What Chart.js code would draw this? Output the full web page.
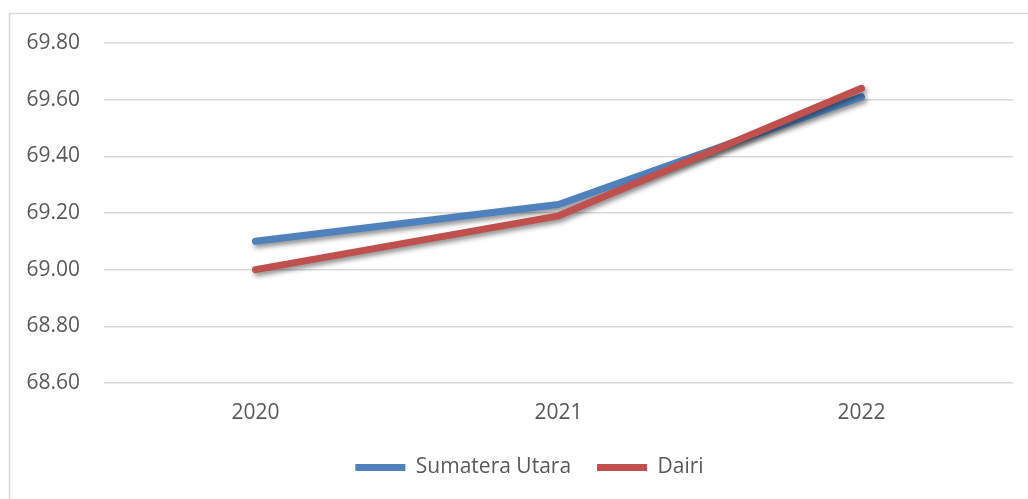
<!DOCTYPE html>
<html>
<head>
<meta charset="utf-8">
<script src="https://cdn.jsdelivr.net/npm/chart.js@4"></script>
<style>
  html, body { margin: 0; padding: 0; background: #fff; overflow: hidden; }
  #wrap { position: absolute; left: 0; top: 0; width: 1028px; height: 505px; }
</style>
</head>
<body>
<div id="wrap"><canvas id="grafico"></canvas></div>
<script>
// dados do grafico
var tahun = ["2020", "2021", "2022"];
var sumateraUtara = [69.10, 69.23, 69.61];
var dairi = [69.00, 69.19, 69.64];
var namaSeri = ["Sumatera Utara", "Dairi"];
var sumbuY = { min: 68.6, max: 69.8, step: 0.2 };

var corTexto = "#595959";
var fonte = "'Open Sans', sans-serif";

// sombra nas linhas
var sombra = {
    id: "sombra",
    beforeDatasetDraw: function (chart) {
        var ctx = chart.ctx;
        ctx.save();
        ctx.shadowColor = "rgba(0,0,0,0.45)";
        ctx.shadowBlur = 5;
        ctx.shadowOffsetX = 2;
        ctx.shadowOffsetY = 3;
    },
    afterDatasetDraw: function (chart) {
        chart.ctx.restore();
    }
};

// moldura cinza
var moldura = {
    id: "moldura",
    beforeDraw: function (chart) {
        var ctx = chart.ctx;
        ctx.save();
        ctx.strokeStyle = "#d9d9d9";
        ctx.lineWidth = 1.5;
        ctx.strokeRect(9.5, 13.5, 1200, 600);
        ctx.restore();
    }
};

// legenda um pouco para a direita (centro da moldura)
var moveLegenda = {
    id: "moveLegenda",
    afterLayout: function (chart) {
        chart.legend.left += 23;
        chart.legend.right += 23;
    }
};

var ctx = document.getElementById("grafico");

var grafico = new Chart(ctx, {
    type: "line",
    plugins: [moldura, sombra, moveLegenda],
    data: {
        labels: tahun,
        datasets: [{
            label: namaSeri[0],
            data: sumateraUtara,
            borderColor: "#4f81bd",
            backgroundColor: "#4f81bd",
            borderWidth: 7,
            borderCapStyle: "round",
            borderJoinStyle: "round",
            pointRadius: 0,
            fill: false,
            order: 1
        }, {
            label: namaSeri[1],
            data: dairi,
            borderColor: "#c0504d",
            backgroundColor: "#c0504d",
            borderWidth: 7,
            borderCapStyle: "round",
            borderJoinStyle: "round",
            pointRadius: 0,
            fill: false,
            order: 0
        }]
    },
    options: {
        responsive: true,
        maintainAspectRatio: false,
        animation: false,
        layout: {
            padding: { left: 0, right: 15, top: 43, bottom: 17 }
        },
        plugins: {
            tooltip: { enabled: false },
            legend: {
                position: "bottom",
                labels: {
                    usePointStyle: true,
                    pointStyle: "line",
                    pointStyleWidth: 50,
                    color: corTexto,
                    font: { family: fonte, size: 21 },
                    padding: 26,
                    sort: function (a, b) { return a.datasetIndex - b.datasetIndex; }
                }
            }
        },
        scales: {
            x: {
                offset: true,
                grid: { display: false, drawTicks: false },
                border: { display: false },
                ticks: {
                    color: corTexto,
                    font: { family: fonte, size: 21 },
                    padding: 17
                },
                afterFit: function (scale) { scale.height = 48; }
            },
            y: {
                min: sumbuY.min,
                max: sumbuY.max,
                grid: { color: "#d9d9d9", lineWidth: 1.5, drawTicks: false },
                border: { display: false },
                ticks: {
                    stepSize: sumbuY.step,
                    color: corTexto,
                    font: { family: fonte, size: 21 },
                    padding: 24,
                    callback: function (v) { return Number(v).toFixed(2); }
                },
                afterFit: function (scale) { scale.width = 104; }
            }
        }
    }
});
</script>
</body>
</html>
